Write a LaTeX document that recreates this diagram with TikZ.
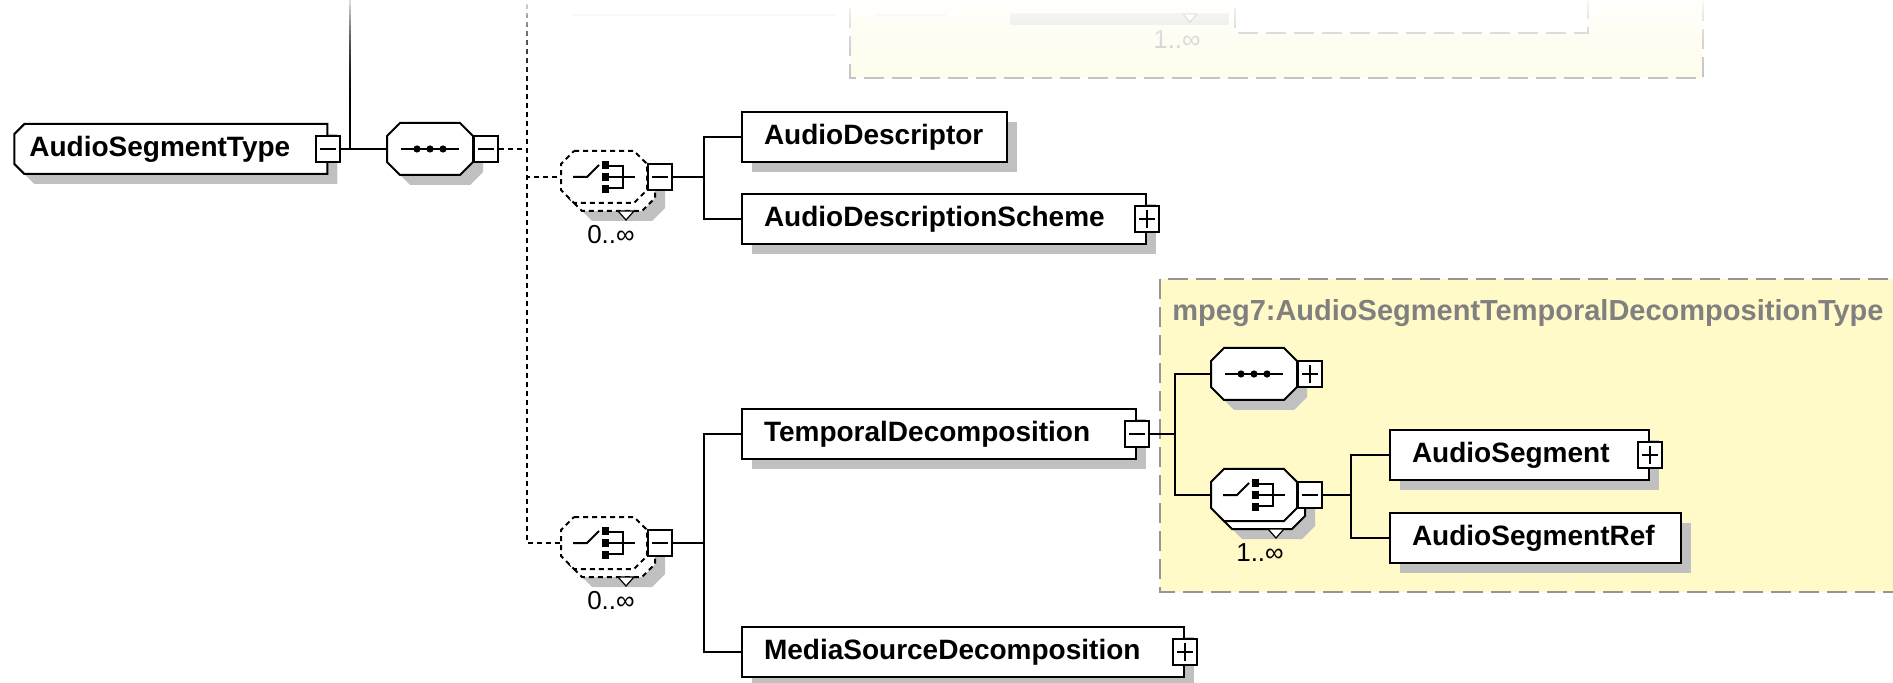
\documentclass[tikz,border=0pt]{standalone}
\usepackage{fontspec}
\setmainfont{Liberation Sans}
\usetikzlibrary{shadows}

\definecolor{typeyellow}{RGB}{255,250,200}
\definecolor{shadowgray}{RGB}{192,192,192}
\definecolor{dashgray}{RGB}{150,150,150}
\definecolor{typelabel}{RGB}{128,128,128}

\pgfdeclarelayer{bg}
\pgfsetlayers{bg,main}

\newcommand\elemfont{\fontsize{14}{16}\selectfont\bfseries}
\newcommand\occfont{\fontsize{13}{15}\selectfont}

% outlines, in pixel units round a node centre
\newcommand\octagon[1]{%
  \path[#1] (-30,-26) -- (30,-26) -- (43,-13) -- (43,13) -- (30,26)
    -- (-30,26) -- (-43,13) -- (-43,-13) -- cycle;}
\newcommand\rootshape[1]{%
  \path[#1] (-146.5,-25) -- (156.5,-25) -- (156.5,25) -- (-146.5,25)
    -- (-156.5,15) -- (-156.5,-15) -- cycle;}
\newcommand\seqshape[1]{%
  \begin{scope}[shift={(#1.center)}]
    \octagon{fill=shadowgray, shift={(10,10)}}
    \octagon{draw, fill=white, line width=1pt}
  \end{scope}}
\newcommand\choiceshape[2]{% node, line style
  \begin{scope}[shift={(#1.center)}]
    \octagon{fill=shadowgray, shift={(18,18)}}
    \octagon{draw, fill=white, line width=1pt, #2, shift={(8,8)}}
    \octagon{draw, fill=white, line width=1pt, #2}
    \draw[fill=white, line width=.6pt] (14,34) -- (30,34) -- (22,43) -- cycle;
  \end{scope}}

% compositor icons
\newcommand\seqicon[1]{%
  \begin{scope}[shift={(#1.center)}]
    \draw[line width=1pt] (-29,0) -- (29,0);
    \foreach \d in {-13,0,13} \fill (\d,0) circle (3.6);
  \end{scope}}
\newcommand\choiceicon[1]{%
  \begin{scope}[shift={(#1.center)}, line width=1pt]
    \draw (-31,0) -- (-17,0) -- (-5,-12);
    \fill (-2,-16) rectangle (5,-8);
    \fill (-2,-4) rectangle (5,4);
    \fill (-2,8) rectangle (5,16);
    \draw (5,-11) -- (19,-11) -- (19,11) -- (5,11);
    \draw (5,0) -- (31,0);
  \end{scope}}

\tikzset{
  elem/.style={rectangle, draw, fill=white, line width=1pt, minimum height=25pt,
    inner xsep=11pt, inner ysep=0pt, anchor=west, align=left, font=\elemfont,
    general shadow={shadow xshift=5pt, shadow yshift=-5pt, fill=shadowgray}},
  rootlabel/.style={rectangle, minimum width=156.5pt, minimum height=25pt,
    inner sep=0pt, anchor=west, align=left, font=\elemfont},
  comp/.style={rectangle, minimum width=43pt, minimum height=26pt, inner sep=0pt},
  tog/.style={rectangle, draw, fill=white, line width=.9pt, minimum width=12pt,
    minimum height=13pt, inner sep=0pt},
  minusbox/.style={tog, path picture={
    \draw[line width=.9pt] ([xshift=2pt]path picture bounding box.west)
      -- ([xshift=-2pt]path picture bounding box.east);}},
  plusbox/.style={tog, path picture={
    \draw[line width=.9pt] ([xshift=2pt]path picture bounding box.west)
      -- ([xshift=-2pt]path picture bounding box.east);
    \draw[line width=.9pt] ([yshift=2pt]path picture bounding box.south)
      -- ([yshift=-2pt]path picture bounding box.north);}},
  link/.style={line width=1pt},
  optlink/.style={line width=1pt, dash pattern=on 2.5pt off 2pt},
  occ/.style={font=\occfont, inner sep=0pt},
}

\begin{document}
\begin{tikzpicture}[x=0.5pt, y=-0.5pt]
  \useasboundingbox (0,0) rectangle (1893,683);

  \node[anchor=west, inner sep=0pt, text=typelabel, font=\fontsize{14.5}{16}\selectfont\bfseries]
    (typename) at (1172,313) {mpeg7:AudioSegmentTemporalDecompositionType};

  % elements
  \node[rootlabel, text width=141.5pt] (AST) at (14,149) {AudioSegmentType};
  \node[minusbox] (tAST) at (AST.east) {};

  \node[comp] (seq1) at (430,149) {};
  \node[minusbox, anchor=west] (tseq1) at (seq1.east) {};

  \node[comp] (cho1) at (604,177) {};
  \node[minusbox, anchor=west] (tcho1) at (cho1.east) {};
  \node[occ] (occ1) at (611,235) {0..∞};

  \node[comp] (cho2) at (604,543) {};
  \node[minusbox, anchor=west] (tcho2) at (cho2.east) {};
  \node[occ] (occ2) at (611,601) {0..∞};

  \node[elem, text width=110.5pt] (AD) at (741,137) {AudioDescriptor};
  \node[elem, text width=180pt] (ADS) at (741,219) {AudioDescriptionScheme};
  \node[plusbox] (tADS) at (ADS.east) {};

  \node[elem, text width=175pt] (TD) at (741,434) {TemporalDecomposition};
  \node[minusbox] (tTD) at (TD.east) {};
  \node[elem, text width=199pt] (MSD) at (741,652) {MediaSourceDecomposition};
  \node[plusbox] (tMSD) at (MSD.east) {};

  \node[comp] (seq2) at (1254,374) {};
  \node[plusbox, anchor=west] (tseq2) at (seq2.east) {};

  \node[comp] (cho3) at (1254,495) {};
  \node[minusbox, anchor=west] (tcho3) at (cho3.east) {};
  \node[occ] (occ3) at (1260,553) {1..∞};

  \node[elem, text width=107.5pt] (AS) at (1389,455) {AudioSegment};
  \node[plusbox] (tAS) at (AS.east) {};
  \node[elem, text width=123.5pt] (ASR) at (1389,538) {AudioSegmentRef};

  % outlines behind the labels
  \begin{pgfonlayer}{bg}
    \draw[fill=typeyellow, draw=dashgray, line width=1pt, dash pattern=on 10pt off 4pt]
      (1160,279) rectangle (1925,592);
    \begin{scope}[shift={(AST.center)}]
      \rootshape{fill=shadowgray, shift={(10,10)}}
      \rootshape{draw, fill=white, line width=1pt}
    \end{scope}
    \seqshape{seq1}
    \seqshape{seq2}
    \choiceshape{cho1}{dash pattern=on 2.5pt off 2pt}
    \choiceshape{cho2}{dash pattern=on 2.5pt off 2pt}
    \choiceshape{cho3}{solid}
  \end{pgfonlayer}
  \seqicon{seq1}
  \seqicon{seq2}
  \choiceicon{cho1}
  \choiceicon{cho2}
  \choiceicon{cho3}

  % connectors
  \coordinate (jRoot) at (350,149);
  \coordinate (topRoot) at (350,-5);
  \coordinate (jTrunk) at (527,149);
  \coordinate (topTrunk) at (527,-5);
  \coordinate (j1) at (704,177);
  \coordinate (j2) at (704,543);
  \coordinate (jY) at (1175,434);
  \coordinate (j3) at (1351,495);

  \draw[link] (tAST.east) -- (seq1.west);
  \draw[link] (jRoot) -- (topRoot);
  \draw[optlink] (tseq1.east) -- (jTrunk);
  \draw[optlink] (topTrunk) |- (cho1.west);
  \draw[optlink] (topTrunk) |- (cho2.west);

  \draw[link] (tcho1.east) -- (j1);
  \draw[link] (j1) |- (AD.west);
  \draw[link] (j1) |- (ADS.west);

  \draw[link] (tcho2.east) -- (j2);
  \draw[link] (j2) |- (TD.west);
  \draw[link] (j2) |- (MSD.west);

  \draw[link] (tTD.east) -- (jY);
  \draw[link] (jY) |- (seq2.west);
  \draw[link] (jY) |- (cho3.west);

  \draw[link] (tcho3.east) -- (j3);
  \draw[link] (j3) |- (AS.west);
  \draw[link] (j3) |- (ASR.west);

  % faded part above
  \draw[fill=typeyellow!35, draw=dashgray!60, line width=1pt, dash pattern=on 10pt off 4pt]
    (850,-20) rectangle (1703,78);
  \fill[shadowgray!50] (1010,13) rectangle (1229,25);
  \draw[fill=white, draw=dashgray!60, line width=1pt, dash pattern=on 10pt off 4pt]
    (1235,-20) rectangle (1588,33);
  \draw[fill=white, draw=gray!60, line width=.6pt] (1183,14) -- (1197,14) -- (1190,22) -- cycle;
  \draw[shadowgray!30, line width=1pt] (572,15) -- (835,15);
  \draw[shadowgray!30, line width=1pt] (875,15) -- (946,15);
  \node[occ, text=gray!45] (occ0) at (1177,40) {1..∞};

  \foreach \k in {0,...,21} {
    \pgfmathsetmacro\op{0.9*(1-(\k*5+2.5)/110)^2}
    \fill[white, opacity=\op] (0,\k*5) rectangle (1893,\k*5+5);
  }
\end{tikzpicture}
\end{document}
